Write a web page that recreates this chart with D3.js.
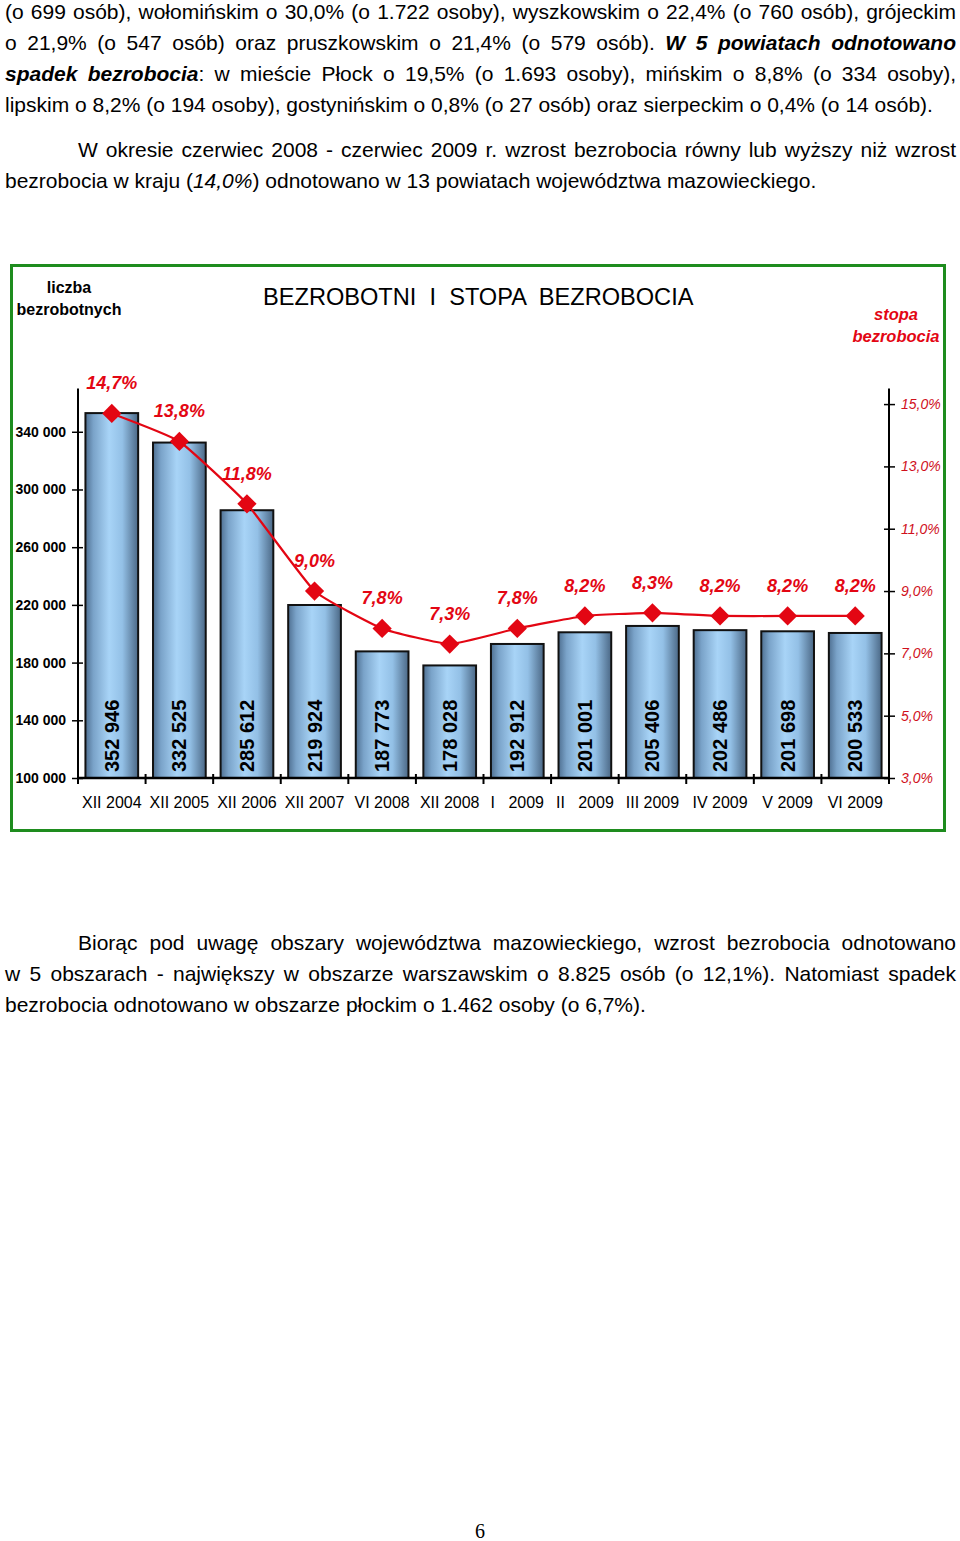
<!doctype html>
<html lang="pl">
<head>
<meta charset="UTF-8">
<title>Bezrobotni i stopa bezrobocia</title>
<style>
	body { margin: 0; background: #fff; }
	.page { position: relative; width: 960px; height: 1541px; overflow: hidden; }
	.ln { position: absolute; left: 5px; width: 951px; height: 31px; line-height: 31px;
		font-family: "Liberation Sans", Arial, sans-serif; font-size: 21px; color: #000; white-space: nowrap; }
	.j { text-align: justify; text-align-last: justify; white-space: normal; }
	.ind { left: 78px; width: 878px; }
	.pg { position: absolute; left: 0; width: 960px; top: 1522px; height: 18px; line-height: 18px; text-align: center;
		font-family: "Liberation Serif", "Times New Roman", serif; font-size: 20px; }
	svg { position: absolute; left: 0; top: 0; }
</style>
</head>
<body>
<div class="page" id="page">
	<div class="ln j" style="top:-4px">(o 699 osób), wołomińskim o 30,0% (o 1.722 osoby), wyszkowskim o 22,4% (o 760 osób), grójeckim</div>
	<div class="ln j" style="top:27px">o 21,9% (o 547 osób) oraz pruszkowskim o 21,4% (o 579 osób). <b><i>W 5 powiatach odnotowano</i></b></div>
	<div class="ln j" style="top:58px"><b><i>spadek bezrobocia</i></b>: w mieście Płock o 19,5% (o 1.693 osoby), mińskim o 8,8% (o 334 osoby),</div>
	<div class="ln" style="top:89px">lipskim o 8,2% (o 194 osoby), gostynińskim o 0,8% (o 27 osób) oraz sierpeckim o 0,4% (o 14 osób).</div>
	<div class="ln j ind" style="top:134px">W okresie czerwiec 2008 - czerwiec 2009 r. wzrost bezrobocia równy lub wyższy niż wzrost</div>
	<div class="ln" style="top:165px">bezrobocia w kraju (<i>14,0%</i>) odnotowano w 13 powiatach województwa mazowieckiego.</div>

	<div class="ln j ind" style="top:927px">Biorąc pod uwagę obszary województwa mazowieckiego, wzrost bezrobocia odnotowano</div>
	<div class="ln j" style="top:958px">w 5 obszarach - największy w obszarze warszawskim o 8.825 osób (o 12,1%). Natomiast spadek</div>
	<div class="ln" style="top:989px">bezrobocia odnotowano w obszarze płockim o 1.462 osoby (o 6,7%).</div>

	<div class="pg">6</div>
</div>

<script src="https://cdn.jsdelivr.net/npm/d3@7"></script>
<script>
	// dane
	var categories = ['XII 2004', 'XII 2005', 'XII 2006', 'XII 2007', 'VI 2008', 'XII 2008',
		'I   2009', 'II   2009', 'III 2009', 'IV 2009', 'V 2009', 'VI 2009'];
	var unemployed = [352946, 332525, 285612, 219924, 187773, 178028, 192912, 201001, 205406, 202486, 201698, 200533];
	var rate = [14.7, 13.8, 11.8, 9.0, 7.8, 7.3, 7.8, 8.2, 8.3, 8.2, 8.2, 8.2];
	var leftTicks = [100000, 140000, 180000, 220000, 260000, 300000, 340000];
	var rightTicks = [3, 5, 7, 9, 11, 13, 15];

	var font = '"Liberation Sans", Arial, sans-serif',
		red = '#e30613',
		redAxis = '#d0101c';

	var pl = d3.formatLocale({decimal: ',', thousands: ' ', grouping: [3], currency: ['', '']});
	var fmtNum = pl.format(',d'),
		fmtPct = function(v) { return pl.format('.1f')(v) + '%'; };

	var x0 = 78, x1 = 889, yTop = 388.5, yBot = 778;

	var x = d3.scaleBand()
		.domain(categories)
		.range([x0, x1])
		.paddingInner(0.22)
		.paddingOuter(0.11);

	var yL = d3.scaleLinear().domain([100000, 370000]).range([yBot, yTop]);
	var yR = d3.scaleLinear().domain([3, 15.5]).range([yBot, yTop]);

	var svg = d3.select('#page').append('svg')
		.attr('width', 960)
		.attr('height', 860)
		.style('font-family', font);

	var defs = svg.append('defs');
	var grad = defs.append('linearGradient').attr('id', 'barGrad')
		.attr('x1', '0%').attr('x2', '100%').attr('y1', '0%').attr('y2', '0%');
	[[0, '#4f7092'], [0.15, '#7aa3c9'], [0.45, '#a8d4f7'], [0.7, '#93c0e6'], [1, '#4b6886']]
		.forEach(function(s) {
			grad.append('stop').attr('offset', s[0]).attr('stop-color', s[1]);
		});

	// ramka
	svg.append('rect')
		.attr('x', 11.5).attr('y', 265.5)
		.attr('width', 933).attr('height', 565)
		.attr('fill', 'none')
		.attr('stroke', '#1e8c1e')
		.attr('stroke-width', 3);

	// tytuły
	svg.append('text')
		.attr('x', 263).attr('y', 305)
		.attr('font-size', 23.6)
		.attr('xml:space', 'preserve')
		.style('white-space', 'pre')
		.text('BEZROBOTNI  I  STOPA  BEZROBOCIA');

	svg.append('text').attr('x', 69).attr('y', 293).attr('text-anchor', 'middle')
		.attr('font-size', 16).attr('font-weight', 'bold').text('liczba');
	svg.append('text').attr('x', 69).attr('y', 315).attr('text-anchor', 'middle')
		.attr('font-size', 16).attr('font-weight', 'bold').text('bezrobotnych');

	svg.append('text').attr('x', 896).attr('y', 320).attr('text-anchor', 'middle')
		.attr('font-size', 16.5).attr('font-weight', 'bold').attr('font-style', 'italic')
		.attr('fill', red).text('stopa');
	svg.append('text').attr('x', 896).attr('y', 342).attr('text-anchor', 'middle')
		.attr('font-size', 16.5).attr('font-weight', 'bold').attr('font-style', 'italic')
		.attr('fill', red).text('bezrobocia');

	// słupki
	var bars = svg.append('g').selectAll('g.bar')
		.data(categories)
		.enter()
		.append('g')
		.attr('class', 'bar');

	bars.append('rect')
		.attr('x', function(d) { return x(d); })
		.attr('y', function(d, i) { return yL(unemployed[i]); })
		.attr('width', x.bandwidth())
		.attr('height', function(d, i) { return yBot - yL(unemployed[i]); })
		.attr('fill', 'url(#barGrad)')
		.attr('stroke', '#111')
		.attr('stroke-width', 2);

	bars.append('text')
		.attr('transform', function(d) {
			return 'translate(' + (x(d) + x.bandwidth() / 2 + 7) + ',' + (yBot - 6) + ') rotate(-90)';
		})
		.attr('font-size', 20)
		.attr('font-weight', 'bold')
		.text(function(d, i) { return fmtNum(unemployed[i]); });

	// osie
	var axL = svg.append('g')
		.attr('transform', 'translate(' + x0 + ',0)')
		.call(d3.axisLeft(yL).tickValues(leftTicks).tickSize(6).tickFormat(fmtNum));
	axL.select('.domain').remove();
	axL.selectAll('.tick line').attr('x1', 5).attr('stroke', '#000').attr('stroke-width', 1.5);
	axL.selectAll('.tick text')
		.attr('x', -12)
		.attr('font-family', font)
		.attr('font-size', 14)
		.attr('font-weight', 'bold')
		.attr('fill', '#000');

	var axR = svg.append('g')
		.attr('transform', 'translate(' + x1 + ',0)')
		.call(d3.axisRight(yR).tickValues(rightTicks).tickSize(6).tickFormat(fmtPct));
	axR.select('.domain').remove();
	axR.selectAll('.tick line').attr('x1', -5).attr('stroke', '#000').attr('stroke-width', 1.5);
	axR.selectAll('.tick text')
		.attr('x', 12)
		.attr('font-family', font)
		.attr('font-size', 14)
		.attr('font-style', 'italic')
		.attr('fill', redAxis);

	svg.append('line').attr('x1', x0).attr('x2', x0).attr('y1', yTop).attr('y2', yBot)
		.attr('stroke', '#000').attr('stroke-width', 2);
	svg.append('line').attr('x1', x1).attr('x2', x1).attr('y1', yTop).attr('y2', yBot)
		.attr('stroke', '#000').attr('stroke-width', 2);
	svg.append('line').attr('x1', x0).attr('x2', x1).attr('y1', yBot).attr('y2', yBot)
		.attr('stroke', '#000').attr('stroke-width', 2.5);

	var bounds = d3.range(categories.length + 1).map(function(i) { return x0 + i * x.step(); });
	svg.append('g').selectAll('line')
		.data(bounds)
		.enter()
		.append('line')
		.attr('x1', function(d) { return d; })
		.attr('x2', function(d) { return d; })
		.attr('y1', yBot - 4)
		.attr('y2', yBot + 6)
		.attr('stroke', '#000')
		.attr('stroke-width', 2);

	svg.append('g').selectAll('text')
		.data(categories)
		.enter()
		.append('text')
		.attr('x', function(d) { return x(d) + x.bandwidth() / 2; })
		.attr('y', 808)
		.attr('text-anchor', 'middle')
		.attr('font-size', 16)
		.attr('xml:space', 'preserve')
		.style('white-space', 'pre')
		.text(function(d) { return d; });

	// linia stopy bezrobocia
	var pts = categories.map(function(d, i) {
		return [x(d) + x.bandwidth() / 2, yR(rate[i])];
	});

	svg.append('path')
		.attr('d', d3.line().curve(d3.curveCardinal.tension(0.6))(pts))
		.attr('fill', 'none')
		.attr('stroke', red)
		.attr('stroke-width', 2.2);

	svg.append('g').selectAll('path')
		.data(pts)
		.enter()
		.append('path')
		.attr('d', d3.symbol().type(d3.symbolSquare).size(185))
		.attr('transform', function(d) { return 'translate(' + d[0] + ',' + d[1] + ') rotate(45)'; })
		.attr('fill', red);

	svg.append('g').selectAll('text')
		.data(pts)
		.enter()
		.append('text')
		.attr('x', function(d) { return d[0]; })
		.attr('y', function(d) { return d[1] - 24; })
		.attr('text-anchor', 'middle')
		.attr('font-size', 18)
		.attr('font-weight', 'bold')
		.attr('font-style', 'italic')
		.attr('fill', red)
		.text(function(d, i) { return fmtPct(rate[i]); });
</script>
</body>
</html>
